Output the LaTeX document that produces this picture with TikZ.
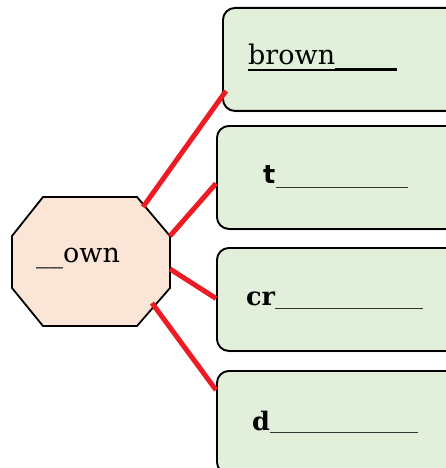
\documentclass[tikz,border=0pt]{standalone}
\usepackage{fontspec}
\setmainfont{DejaVu Serif}
\newfontfamily\labsans{DejaVu Sans}
\usetikzlibrary{shadows}
\definecolor{cardfill}{HTML}{E2EFDA}
\definecolor{octfill}{HTML}{FBE5D6}
\definecolor{linkred}{HTML}{ED1C24}
\begin{document}
\begin{tikzpicture}[x=1pt,y=-1pt,
  card/.style={draw=black, line width=1.9pt, fill=cardfill, rounded corners=12pt,
    anchor=north west, minimum width=260pt, minimum height=103pt, inner sep=0pt,
    drop shadow={opacity=0.25, shadow xshift=0.8pt, shadow yshift=-1.5pt}},
  octo/.style={draw=black, line width=1.8pt, fill=octfill, line join=miter},
  link/.style={draw=linkred, line width=5pt},
  word/.style={inner sep=0pt, anchor=base west, font=\fontsize{27}{31}\selectfont},
  bword/.style={inner sep=0pt, anchor=base west, font=\fontsize{25.5}{30}\selectfont\bfseries},
  blank/.style={draw=black!80, line width=1pt}]
\useasboundingbox (0,0) rectangle (446,468);
\clip (0,0) rectangle (446,468);

% answer cards
\node[card] (b1) at (222,7) {};
\node[card] (b2) at (216,125) {};
\node[card] (b3) at (216,247) {};
\node[card] (b4) at (216,370) {};

% central octagon
\path[octo] (43,197) -- (137,197) -- (170,236) -- (170,288) -- (137,326)
  -- (43,326) -- (12,288) -- (12,236) -- cycle;
\node[word] (own) at (36,262) {\_\_own};

% connector ends on the octagon
\coordinate (o1) at (143,207);
\coordinate (o2) at (170,236);
\coordinate (o3) at (170,269);
\coordinate (o4) at (152,303);
% connector ends on the cards
\coordinate (e1) at ([xshift=4pt,yshift=21pt]b1.south west);
\coordinate (e2) at ([yshift=-6pt]b2.west);
\coordinate (e3) at ([yshift=1pt]b3.west);
\coordinate (e4) at ([yshift=-20pt]b4.north west);

\draw[link] (o1) -- (e1);
\draw[link] (o2) -- (e2);
\draw[link] (o3) -- (e3);
\draw[link] (o4) -- (e4);

% words with blanks
\node[word] (w1) at (248,65) {brown};
\draw[black, line width=1.3pt] ([yshift=-5pt]w1.base west) -- ([yshift=-5pt]w1.base east);
\draw[black, line width=2.6pt] ([yshift=-4.5pt]w1.base east) -- ([yshift=-4.5pt]w1.base east -| 397,0);

\node[bword, font=\fontsize{25.5}{30}\selectfont\labsans\bfseries] (w2) at (263,183) {t};
\draw[blank] ([yshift=-4pt]w2.base east) -- ([yshift=-4pt]w2.base east -| 408,0);

\node[bword] (w3) at (246,305) {cr};
\draw[blank] ([yshift=-3pt]w3.base east) -- ([yshift=-3pt]w3.base east -| 423,0);

\node[bword] (w4) at (252,430) {d};
\draw[blank] ([yshift=-2pt]w4.base east) -- ([yshift=-2pt]w4.base east -| 418,0);
\end{tikzpicture}
\end{document}
